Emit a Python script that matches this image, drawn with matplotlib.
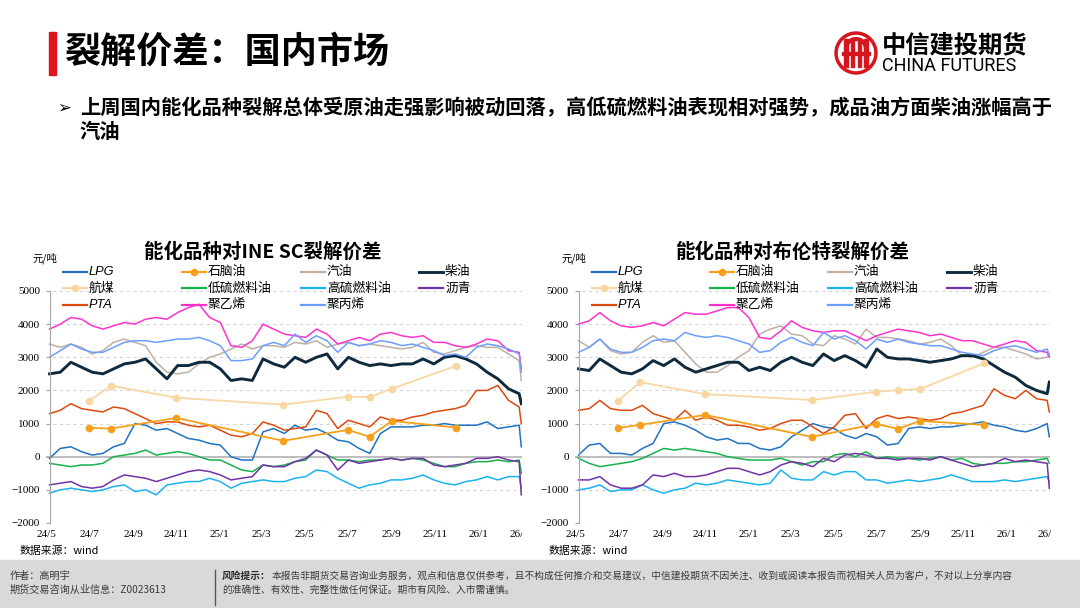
import pandas as pd
import matplotlib
matplotlib.use("Agg")
import matplotlib.pyplot as plt
import matplotlib.dates as mdates
from matplotlib.lines import Line2D
from matplotlib.patches import Rectangle, Circle, Arc
from matplotlib.transforms import Bbox, TransformedBbox

plt.rcParams['font.family'] = ['Noto Sans CJK SC', 'DejaVu Sans']

W, H = 1080, 608

# ---- data (元/吨), about every half month ----
sample_dates = list(pd.date_range("2024-05-06", "2026-02-28", periods=45)) + [pd.Timestamp("2026-03-03")]
survey_dates = pd.to_datetime(["2024-07-01", "2024-08-01", "2024-11-01", "2025-04-01",
                               "2025-07-01", "2025-08-01", "2025-09-01", "2025-12-01"])

# INE SC
sc_lpg = [-50, 250, 300, 150, 50, 100, 300, 400, 1000, 950, 800, 850, 700, 550, 500, 400, 350, 0, -100, -100,
          750, 850, 700, 950, 800, 850, 700, 500, 450, 250, 100, 700, 900, 900, 900, 950, 950, 1000, 950, 950,
          950, 1050, 850, 900, 950, 300]
sc_gasoline = [3400, 3300, 3400, 3300, 3100, 3200, 3450, 3550, 3450, 3350, 2850, 2550, 2500, 2550, 2800, 3000,
               3100, 3250, 3400, 3250, 3350, 3350, 3300, 3450, 3400, 3500, 3300, 3400, 3450, 3350, 3400, 3350,
               3300, 3250, 3300, 3450, 3150, 3100, 3200, 3300, 3350, 3300, 3300, 3100, 2900, 2300]
sc_diesel = [2500, 2550, 2850, 2700, 2550, 2500, 2650, 2800, 2850, 2950, 2650, 2350, 2750, 2750, 2850, 2850,
             2650, 2300, 2350, 2300, 2950, 2800, 2700, 3000, 2850, 3000, 3100, 2650, 3000, 2850, 2750, 2800,
             2750, 2800, 2800, 2950, 2800, 3000, 3050, 2950, 2800, 2550, 2350, 2050, 1900, 1600]
sc_lsfo = [-200, -250, -300, -250, -250, -200, 0, 50, 100, 200, 50, 100, 150, 100, 0, -100, -100, -250, -400,
           -450, -250, -300, -250, -150, -100, 200, 50, -100, -100, -150, -100, -100, -50, -100, -50, -100,
           -200, -300, -300, -200, -150, -150, -100, -150, -100, -500]
sc_hsfo = [-1100, -1000, -950, -1000, -1050, -1000, -900, -850, -1050, -1000, -1150, -850, -800, -750, -750,
           -650, -750, -950, -800, -750, -700, -750, -750, -650, -600, -400, -450, -650, -800, -950, -850, -800,
           -700, -700, -650, -550, -700, -800, -850, -750, -700, -600, -700, -600, -600, -950]
sc_asphalt = [-850, -800, -750, -900, -950, -900, -700, -550, -600, -650, -750, -650, -550, -450, -400, -450,
              -550, -700, -650, -600, -250, -300, -300, -150, -50, 200, 50, -400, -100, -200, -150, -100, -50,
              -100, -50, -50, -250, -300, -250, -200, -50, -50, 0, -100, -150, -1150]
sc_pta = [1300, 1400, 1600, 1450, 1400, 1350, 1500, 1450, 1300, 1150, 1000, 1050, 1050, 950, 900, 950, 800,
          650, 600, 700, 1050, 950, 800, 850, 900, 1400, 1300, 850, 1100, 1000, 900, 1200, 1100, 1100, 1200,
          1250, 1350, 1400, 1450, 1550, 2000, 2000, 2150, 1700, 1500, 1000]
sc_pe = [3850, 4000, 4200, 4150, 3950, 3850, 3950, 4050, 4000, 4150, 4200, 4150, 4350, 4500, 4600, 4200, 4050,
         3350, 3300, 3500, 4000, 3850, 3700, 3650, 3600, 3850, 3700, 3400, 3500, 3600, 3500, 3700, 3750, 3650,
         3600, 3650, 3450, 3450, 3350, 3300, 3400, 3550, 3500, 3200, 3150, 2650]
sc_pp = [3000, 3200, 3400, 3250, 3150, 3150, 3300, 3450, 3500, 3500, 3450, 3500, 3550, 3550, 3600, 3500, 3350,
         2900, 2900, 2950, 3350, 3450, 3350, 3700, 3450, 3650, 3500, 3150, 3450, 3350, 3400, 3500, 3450, 3350,
         3400, 3300, 3200, 3050, 3100, 3000, 3300, 3400, 3350, 3250, 3100, 2550]
sc_naphtha = [870, 850, 1170, 480, 810, 600, 1080, 880]
sc_jet = [1690, 2140, 1780, 1570, 1810, 1800, 2050, 2740]

# Brent
br_lpg = [50, 350, 400, 100, 100, 50, 250, 400, 1000, 1050, 950, 800, 600, 500, 550, 400, 400, 250, 200, 300,
          600, 800, 1000, 900, 850, 650, 550, 700, 600, 350, 400, 850, 900, 850, 900, 900, 950, 1000, 1050, 950,
          900, 800, 750, 850, 1000, 600]
br_gasoline = [3500, 3300, 3550, 3200, 3100, 3150, 3450, 3650, 3450, 3500, 3150, 2800, 2550, 2550, 2750, 3000,
               3200, 3700, 3850, 3950, 3700, 3650, 3400, 3350, 3650, 3550, 3400, 3850, 3600, 3600, 3550, 3500,
               3400, 3450, 3550, 3350, 3050, 3000, 3150, 3300, 3300, 3200, 3100, 2950, 3000, 3100]
br_diesel = [2650, 2600, 2950, 2750, 2550, 2500, 2650, 2900, 2750, 2950, 2700, 2550, 2650, 2750, 2850, 2850,
             2600, 2700, 2600, 2850, 3000, 2850, 2750, 3100, 2900, 3050, 2900, 2700, 3250, 3000, 2950, 2950,
             2900, 2850, 2900, 2950, 3050, 3050, 2950, 2750, 2550, 2400, 2150, 2000, 1900, 2250]
br_lsfo = [-50, -200, -300, -250, -200, -150, -50, 100, 250, 200, 250, 200, 150, 100, 0, -50, -100, -100, -100,
           -50, -150, -250, -150, -150, 50, 100, 0, 150, -50, 0, -50, -50, -100, -50, 0, -100, -50, -200, -250,
           -200, -200, -150, -150, -100, -50, -200]
br_hsfo = [-1000, -950, -850, -1050, -1000, -1000, -850, -1000, -1100, -1000, -950, -800, -850, -800, -700,
           -750, -800, -850, -800, -400, -650, -700, -700, -450, -550, -450, -450, -700, -700, -800, -750, -700,
           -750, -700, -650, -550, -650, -750, -750, -750, -700, -750, -700, -650, -600, -750]
br_asphalt = [-700, -700, -600, -850, -950, -950, -850, -550, -600, -500, -600, -600, -550, -450, -350, -350,
              -450, -550, -450, -250, -150, -200, -300, -50, -150, 50, 100, 50, -50, -50, -100, -50, -50, -100,
              0, -100, -200, -300, -250, -200, -50, -150, -100, -150, -200, -950]
br_pta = [1400, 1450, 1700, 1450, 1400, 1400, 1550, 1300, 1200, 1100, 1400, 1100, 1200, 1100, 950, 950, 900,
          800, 850, 1000, 1100, 1100, 900, 700, 900, 1250, 1300, 850, 1150, 1250, 1150, 1200, 1150, 1100, 1150,
          1300, 1350, 1450, 1550, 2050, 1850, 1750, 2000, 1750, 1700, 1350]
br_pe = [4000, 4100, 4350, 4100, 3950, 3900, 3950, 4050, 3950, 4150, 4350, 4300, 4300, 4400, 4500, 4500, 4200,
         3600, 3550, 3800, 4100, 3900, 3800, 3750, 3800, 3800, 3650, 3500, 3650, 3750, 3850, 3800, 3750, 3650,
         3700, 3600, 3500, 3500, 3400, 3300, 3400, 3500, 3450, 3200, 3150, 3000]
br_pp = [3150, 3300, 3550, 3250, 3150, 3150, 3300, 3500, 3550, 3500, 3750, 3650, 3600, 3650, 3600, 3500, 3400,
         3150, 3200, 3450, 3600, 3450, 3350, 3750, 3550, 3650, 3500, 3250, 3550, 3450, 3550, 3450, 3400, 3350,
         3350, 3250, 3150, 3100, 3050, 3200, 3300, 3350, 3250, 3150, 3250, 3050]
br_naphtha = [870, 960, 1260, 600, 990, 840, 1080, 960]
br_jet = [1690, 2250, 1890, 1710, 1960, 2010, 2040, 2820]

names = ["LPG", "石脑油", "汽油", "柴油", "航煤", "低硫燃料油", "高硫燃料油", "沥青", "PTA", "聚乙烯", "聚丙烯"]
survey_names = ["石脑油", "航煤"]

sc_data = dict(zip(names, [sc_lpg, sc_naphtha, sc_gasoline, sc_diesel, sc_jet, sc_lsfo, sc_hsfo,
                           sc_asphalt, sc_pta, sc_pe, sc_pp]))
br_data = dict(zip(names, [br_lpg, br_naphtha, br_gasoline, br_diesel, br_jet, br_lsfo, br_hsfo,
                           br_asphalt, br_pta, br_pe, br_pp]))

colors = {"LPG": "#1F72C4", "石脑油": "#F5A11C", "汽油": "#BFB0A3", "柴油": "#0E2A3C",
          "航煤": "#F9D7A2", "低硫燃料油": "#19B04F", "高硫燃料油": "#1CB2EE", "沥青": "#7232A6",
          "PTA": "#DD4A0F", "聚乙烯": "#FF33CC", "聚丙烯": "#6C9EFF"}
widths = {"柴油": 2.1}

legend_rows = [["LPG", "石脑油", "汽油", "柴油"],
               ["航煤", "低硫燃料油", "高硫燃料油", "沥青"],
               ["PTA", "聚乙烯", "聚丙烯"]]

fig = plt.figure(figsize=(10.8, 6.08), dpi=100)


def fx(x):
    return x / W


def fy(y):
    return 1 - y / H


# ---- header ----
fig.add_artist(Rectangle((fx(49), fy(75)), 7 / W, 43 / H, color="#E0141E", transform=fig.transFigure))
fig.text(fx(64), fy(52), "裂解价差：国内市场", fontsize=26, fontweight="bold", va="center", ha="left")

# logo: red ring with a stylised pillar pattern
logo = fig.add_axes([fx(834), fy(75), 44 / W, 44 / H])
logo.set_xlim(-22, 22)
logo.set_ylim(-22, 22)
logo.set_aspect("equal")
logo.axis("off")
red = "#D6161E"
logo.add_patch(Circle((0, 0), 21, color=red))
logo.add_patch(Circle((0, 0), 17.5, color="white"))
for dx in [-10, -3.5, 3.5, 10]:
    logo.add_patch(Rectangle((dx - 1.8, -14), 3.6, 28, color=red))
logo.add_patch(Arc((0, 4), 20, 20, theta1=0, theta2=180, color=red, lw=3))
logo.add_patch(Rectangle((-14, -2), 28, 3.2, color=red))

fig.text(fx(882), fy(45), "中信建投期货", fontsize=17.5, fontweight="bold", va="center", ha="left")
fig.text(fx(882), fy(66), "CHINA FUTURES", fontsize=13, family=["Roboto", "DejaVu Sans"],
         va="center", ha="left")

fig.text(fx(57), fy(108), "➢", fontsize=12, family=["DejaVu Sans"], va="center", ha="left")
fig.text(fx(80), fy(108), "上周国内能化品种裂解总体受原油走强影响被动回落，高低硫燃料油表现相对强势，成品油方面柴油涨幅高于",
         fontsize=14.6, fontweight="bold", va="center", ha="left")
fig.text(fx(80), fy(131), "汽油", fontsize=14.6, fontweight="bold", va="center", ha="left")


# ---- charts ----
def draw_chart(left_px, right_px, data, title, title_x, legend_x, clip_x):
    ax = fig.add_axes([fx(left_px), fy(523), (right_px - left_px) / W, 232 / H])
    for name in names:
        lw = widths.get(name, 1.1)
        if name in survey_names:
            ax.plot(survey_dates, data[name], color=colors[name], lw=1.3, marker="o", ms=4.5, zorder=3)
        else:
            ax.plot(sample_dates, data[name], color=colors[name], lw=lw, zorder=2)

    ax.set_ylim(-2000, 5000)
    ax.set_xlim(pd.Timestamp("2024-05-01"), pd.Timestamp("2026-03-04"))
    ax.set_yticks(range(-2000, 5001, 1000))
    for v in range(-2000, 5001, 1000):
        if v == 0:
            ax.axhline(v, color="#BDBDBD", lw=1.4, zorder=1)
        else:
            ax.axhline(v, color="#D5D5D5", lw=0.8, ls=(0, (3, 3)), zorder=1)
    ticks = pd.date_range("2024-05-01", "2026-03-01", freq="2MS")
    ax.set_xticks(ticks)
    ax.set_xticklabels([f"{d.year % 100}/{d.month}" for d in ticks])
    for s in ["top", "right", "bottom"]:
        ax.spines[s].set_visible(False)
    ax.spines["left"].set_position(("data", mdates.date2num(pd.Timestamp("2024-05-06"))))
    ax.spines["left"].set_color("#A6A6A6")
    ax.tick_params(axis="x", length=0, pad=5, labelsize=8)
    ax.tick_params(axis="y", length=3, color="#A6A6A6", pad=4, labelsize=8)
    for lbl in ax.get_xticklabels() + ax.get_yticklabels():
        lbl.set_family(["Liberation Serif", "DejaVu Serif"])
    clip = TransformedBbox(Bbox([[0, 0], [fx(clip_x), 1]]), fig.transFigure)
    last = ax.get_xticklabels()[-1]
    last.set_clip_box(clip)
    last.set_clip_on(True)

    fig.text(fx(title_x), fy(252), title, fontsize=14, fontweight="bold", ha="center", va="center")
    fig.text(fx(left_px - 14), fy(258), "元/吨", fontsize=7.5, ha="left", va="center")
    fig.text(fx(left_px - 26), fy(551), "数据来源：wind", fontsize=7.8, ha="left", va="center",
             family=["Noto Sans CJK SC", "Liberation Sans"])

    # legend, laid out in rows like the original
    for r, row in enumerate(legend_rows):
        y = fy(272 + 16.3 * r)
        for c, name in enumerate(row):
            x0 = legend_x[c]
            lw = 2.1 if name == "柴油" else 1.6
            fig.add_artist(Line2D([fx(x0), fx(x0 + 24)], [y, y], color=colors[name], lw=lw,
                                  transform=fig.transFigure))
            if name in survey_names:
                fig.add_artist(Line2D([fx(x0 + 12)], [y], color=colors[name], marker="o", ms=4.5,
                                      transform=fig.transFigure))
            fig.text(fx(x0 + 26), y, name, fontsize=9.2, style="italic",
                     family=["Liberation Sans", "Noto Sans CJK SC"], ha="left", va="center")
    return ax


draw_chart(46, 522, sc_data, "能化品种对INE SC裂解价差", 263, [63, 182, 301, 419], 522)
draw_chart(575, 1050, br_data, "能化品种对布伦特裂解价差", 792, [592, 710, 828, 947], 1051)

# ---- footer ----
fig.add_artist(Rectangle((0, 0), 1, 48 / H, color="#D9D9D9", transform=fig.transFigure, zorder=0))
fig.add_artist(Line2D([fx(215), fx(215)], [fy(570), fy(605)], color="#555555", lw=1,
                      transform=fig.transFigure))
fig.text(fx(10), fy(576), "作者：高明宇", fontsize=7.3, color="#3A3A3A", va="center")
fig.text(fx(10), fy(590), "期货交易咨询从业信息：Z0023613", fontsize=7.3, color="#3A3A3A", va="center")
fig.text(fx(222), fy(576), "风险提示：", fontsize=7, fontweight="bold", color="#2A2A2A", va="center")
fig.text(fx(222 + 50), fy(576),
         "本报告非期货交易咨询业务服务，观点和信息仅供参考，且不构成任何推介和交易建议，中信建投期货不因关注、收到或阅读本报告而视相关人员为客户，不对以上分享内容",
         fontsize=7, color="#3A3A3A", va="center")
fig.text(fx(222), fy(590), "的准确性、有效性、完整性做任何保证。期市有风险、入市需谨慎。",
         fontsize=7, color="#3A3A3A", va="center")

fig.savefig("out.png", dpi=100)
